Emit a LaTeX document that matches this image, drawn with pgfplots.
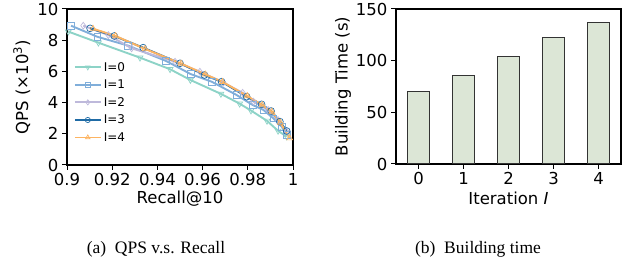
\documentclass[border=0pt]{standalone}
\usepackage{pgfplots}
\pgfplotsset{compat=1.18}
\usepackage{fontspec}
\setmainfont{DejaVu Sans}
\newfontfamily\capfont{Liberation Serif}
\definecolor{cI0}{HTML}{8DD3C7}
\definecolor{cI1}{HTML}{80AEDA}
\definecolor{cI2}{HTML}{BEB9DB}
\definecolor{cI3}{HTML}{1F6BA5}
\definecolor{cI4}{HTML}{FDB462}
\definecolor{barfill}{HTML}{DCE6D6}
\begin{document}
\begin{tikzpicture}
\path[use as bounding box] (0pt,0pt) rectangle (636pt,264pt);
\pgfplotsset{
  every axis/.append style={
    scale only axis,
    font=\fontsize{16.5}{19}\selectfont,
    /pgf/number format/assume math mode=true,
    tick pos=left, tick align=outside,
    major tick length=5pt,
    axis line style={line width=1.2pt},
    every tick/.style={black, line width=1pt},
  }
}
\begin{axis}[
  at={(67pt,99pt)}, anchor=south west,
  width=226pt, height=156pt,
  xmin=0.9, xmax=1, ymin=0, ymax=10,
  xtick={0.9,0.92,0.94,0.96,0.98,1},
  xticklabels={0.9,0.92,0.94,0.96,0.98,1},
  ytick={0,2,4,6,8,10},
  xlabel={Recall@10},
  ylabel={QPS (×10\textsuperscript{3})},
  xlabel style={at={(axis description cs:0.5,-0.215)}, anchor=center},
  ylabel style={at={(axis description cs:-0.2,0.5)}, anchor=center},
  legend style={draw=none, fill=none, at={(axis description cs:0.025,0.68)}, anchor=north west,
    font=\fontsize{12}{14}\selectfont, row sep=3.2pt, inner sep=1pt},
  legend cell align=left,
  legend image code/.code={\draw[mark repeat=2,mark phase=2, mark size=2.6pt] plot coordinates {(0pt,0pt)(13pt,0pt)(26pt,0pt)};},
  every axis plot/.append style={line width=1.9pt, mark size=3.4pt},
]
\addplot[cI0, mark=triangle, mark options={solid, fill=none, line width=0.7pt, rotate=180}] coordinates {
(0.9006,8.55) (0.9139,7.84) (0.9323,6.88) (0.9456,6.14) (0.9546,5.45) (0.9681,4.56) (0.9764,3.93) (0.9814,3.49) (0.9885,2.83) (0.9934,2.19) (0.9972,1.82)
};
\addlegendentry{I=0}
\addplot[cI1, mark=square, mark options={solid, fill=none, line width=0.7pt}] coordinates {
(0.9018,8.93) (0.9134,8.22) (0.9271,7.65) (0.9438,6.67) (0.9547,5.83) (0.9640,5.34) (0.9750,4.49) (0.9821,3.85) (0.9869,3.53) (0.9913,2.99) (0.9950,2.46) (0.9972,1.92)
};
\addlegendentry{I=1}
\addplot[cI2, mark=diamond, mark options={solid, fill=none, line width=0.7pt}] coordinates {
(0.9072,8.93) (0.9183,8.33) (0.9286,7.48) (0.9478,6.62) (0.9588,5.98) (0.9692,5.28) (0.9777,4.63) (0.9825,4.06) (0.9890,3.53) (0.9934,2.88) (0.9972,2.14)
};
\addlegendentry{I=2}
\addplot[cI3, mark=o, mark options={solid, fill=none, line width=0.7pt}] coordinates {
(0.9102,8.76) (0.9209,8.27) (0.9337,7.52) (0.9500,6.52) (0.9608,5.77) (0.9684,5.34) (0.9795,4.38) (0.9861,3.89) (0.9903,3.46) (0.9942,2.78) (0.9972,2.18)
};
\addlegendentry{I=3}
\addplot[cI4, mark=triangle, mark options={solid, fill=none, line width=0.7pt}] coordinates {
(0.9115,8.74) (0.9215,8.27) (0.9345,7.44) (0.9505,6.50) (0.9612,5.81) (0.9688,5.33) (0.9798,4.42) (0.9864,3.84) (0.9906,3.42) (0.9944,2.72) (0.9985,1.72)
};
\addlegendentry{I=4}
\end{axis}
\begin{axis}[
  at={(396pt,100pt)}, anchor=south west,
  width=225pt, height=155pt,
  xmin=-0.5, xmax=4.5, ymin=0, ymax=150,
  xtick={0,1,2,3,4}, ytick={0,50,100,150},
  xlabel={Iteration \textit{I}},
  ylabel={Building Time (s)},
  xlabel style={at={(axis description cs:0.5,-0.22)}, anchor=center},
  ylabel style={at={(axis description cs:-0.235,0.5)}, anchor=center},
]
\addplot[ybar, bar width=0.5, fill=barfill, draw=black!80, line width=1.1pt] coordinates {
(0,70) (1,85.5) (2,104) (3,122) (4,137)
};
\end{axis}
\node[anchor=base, font=\capfont\fontsize{17.5}{20}\selectfont] at (156pt,10pt) {(a)\ \ QPS v.s. Recall};
\node[anchor=base, font=\capfont\fontsize{17.5}{20}\selectfont] at (478pt,10pt) {(b)\ \ Building time};
\end{tikzpicture}
\end{document}
